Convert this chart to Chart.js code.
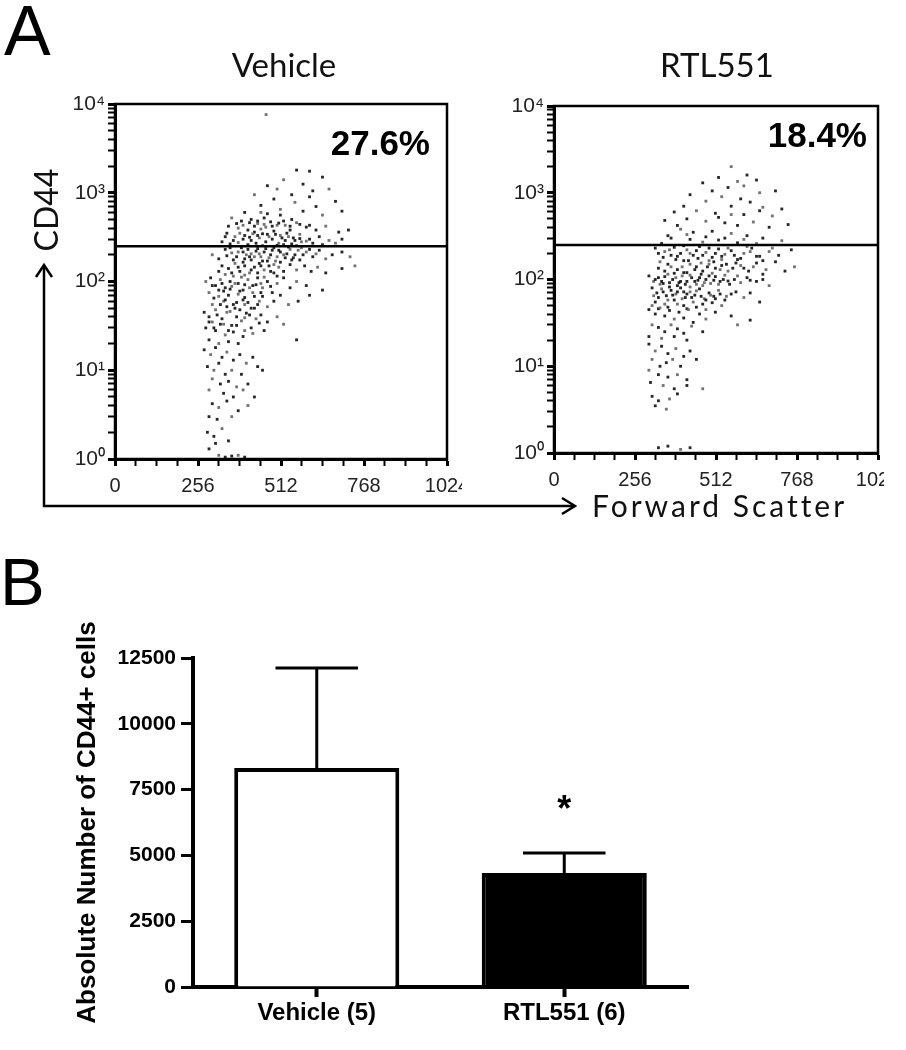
<!DOCTYPE html>
<html>
<head>
<meta charset="utf-8">
<script src="https://cdn.jsdelivr.net/npm/chart.js@4.4.1/dist/chart.umd.min.js"></script>
<style>
  body { margin: 0; background: #fff; }
  #page { position: relative; width: 906px; height: 1050px; overflow: hidden; font-family: "Liberation Sans", Arial, sans-serif; }
  canvas { position: absolute; }
  .txt { position: absolute; white-space: nowrap; color: #000; line-height: 1; }
  .title { font-family: Lato, "Open Sans", sans-serif; font-size: 33px; width: 300px; text-align: center; color: #111; }
  .pct { font-weight: bold; font-size: 35px; text-align: right; width: 200px; }
</style>
</head>
<body>
<div id="page">
  <canvas id="vehicleFlow" width="402" height="420" style="left:60px;top:94px"></canvas>
  <canvas id="rtlFlow" width="388" height="420" style="left:496px;top:96px"></canvas>
  <canvas id="countBars" width="640" height="460" style="left:70px;top:590px"></canvas>

  <svg width="906" height="1050" style="position:absolute;left:0;top:0;pointer-events:none">
    <g stroke="#000" stroke-width="2.5" fill="none">
      <polyline points="44,266 44,506 574,506"/>
      <polyline points="36,277 44,265 52,277"/>
      <polyline points="562,498 575,506 562,514"/>
    </g>
  </svg>

  <div class="txt" style="left:4px;top:-4px;font-size:70px">A</div>
  <div class="txt" style="left:0px;top:548px;font-size:67px">B</div>
  <div class="txt title" style="left:134px;top:48px">Vehicle</div>
  <div class="txt title" style="left:567px;top:48px">RTL551</div>
  <div class="txt pct" style="left:230px;top:125px">27.6%</div>
  <div class="txt pct" style="left:667px;top:117px">18.4%</div>
  <div class="txt" style="left:46px;top:210px;font-family:Lato,'Open Sans',sans-serif;font-size:32px;color:#111;transform:translate(-50%,-50%) rotate(-90deg)">CD44</div>
  <div class="txt" style="left:592px;top:490px;font-family:Lato,'Open Sans',sans-serif;font-size:30px;letter-spacing:3px;color:#111">Forward Scatter</div>
</div>

<script>
// ---- panel A: flow cytometry dots, [forward scatter, CD44] ----
const fscLabels = [0, 256, 512, 768, 1024];
const fscMinorStep = 64;
const cd44Decades = [1, 10, 100, 1000, 10000];
const cd44Exponents = ['\u2070', '\u00B9', '\u00B2', '\u00B3', '\u2074'];
const gateLevel = 250;

const vehiclePoints = [
  [466,7600],
  [560,1800],[600,1750],[520,1400],[640,1500],[470,1200],[500,1100],[580,1250],[610,1050],[660,1100],
  [545,950],[600,900],[430,950],[490,850],[680,800],[555,780],[620,700],[450,720],[510,650],[700,620],
  [580,620],[640,560],[400,600],[470,580],[360,520],[390,480],[420,500],[440,450],[460,520],[480,470],
  [500,430],[520,480],[540,420],[560,460],[590,410],[620,380],[650,420],[690,360],[720,380],[380,400],
  [410,380],[430,360],[450,390],[470,340],[490,370],[510,330],[530,350],[550,310],[570,340],[600,300],
  [630,320],[660,290],[700,300],[345,350],[370,320],[395,300],[420,290],[445,310],[465,280],[485,300],
  [505,270],[525,290],[545,265],[575,280],[610,270],[640,260],[680,270],[330,280],[355,265],[380,275],
  [410,260],[435,270],[455,255],[500,255],[520,260],[560,255],[600,430],[430,420],[465,410],[540,380],
  [510,560],[450,600],
  [340,320],[365,290],[385,350],[400,330],[415,315],[425,345],[440,330],[455,345],[475,320],[495,340],
  [515,310],[535,320],[555,290],[570,305],[590,285],[350,420],[375,450],[395,430],[415,460],[440,480],
  [460,440],[485,420],[505,455],[525,430],[545,500],[570,440],
  [300,200],[320,180],[340,230],[360,210],[375,190],[390,240],[405,200],[420,175],[435,220],[450,190],
  [465,235],[480,200],[495,170],[510,215],[525,185],[540,230],[555,200],[570,175],[590,215],[610,190],
  [630,225],[650,180],[670,200],[700,215],[725,190],[330,150],[350,140],[370,160],[385,130],[400,150],
  [415,125],[430,145],[445,160],[460,135],[475,150],[490,125],[505,145],[520,130],[540,155],[560,135],
  [585,150],[605,130],[625,145],[650,125],[700,140],[740,150],[355,240],[395,215],[445,205],[485,225],
  [530,205],[575,240],[415,190],[455,170],[500,190],[545,175],
  [400,180],[420,205],[440,235],[460,215],[475,185],[490,240],[505,225],[520,200],[535,245],[550,185],
  [565,225],[580,200],[600,230],[620,205],[345,195],[365,175],[380,215],[395,165],[410,230],[430,190],
  [450,150],[470,170],[490,155],[510,165],[320,130],[340,120],[360,125],[380,145],[400,118],[420,135],
  [440,125],[460,112],[480,130],[500,115],
  [280,100],[295,110],[310,90],[325,105],[340,85],[355,100],[365,115],[380,95],[395,80],[410,105],
  [425,90],[440,110],[455,85],[470,100],[485,75],[500,95],[520,110],[540,85],[560,100],[590,90],
  [640,80],[290,75],[305,65],[320,80],[335,60],[350,70],[365,55],[380,72],[395,62],[410,58],
  [425,75],[440,55],[455,68],[470,52],[490,60],[510,70],[535,55],[565,60],[600,70],[300,55],
  [345,52],[420,50],[360,88],[400,92],[430,68],[450,95],[375,58],[330,95],[390,112],[480,88],
  [300,90],[320,68],[335,78],[355,82],[370,95],[385,78],[400,66],[415,85],[435,92],[450,75],
  [310,48],[325,55],[340,62],[355,46],[370,50],[385,48],[400,55],[415,42],[430,50],[445,60],
  [275,45],[290,40],[300,35],[315,42],[330,38],[345,45],[360,32],[375,40],[390,36],[405,44],
  [420,30],[435,38],[450,42],[470,35],[500,40],[280,30],[310,28],[340,25],[365,27],[395,24],
  [425,26],[460,28],[290,22],[320,20],[350,21],[380,20],[520,33],[560,22],[325,33],[400,39],
  [290,35],[305,30],[335,33],[350,28],[375,32],[400,28],[445,34],
  [275,17],[295,15],[310,18],[330,14],[345,16],[365,13],[385,15],[405,12],[425,14],[285,11],
  [305,10],[320,12],[340,9],[360,10],[390,9],[440,11],[300,8],[325,7],[350,7.5],[375,6.5],
  [410,7],[455,10],[290,6],[335,5.5],[365,5],[395,6],[430,5],
  [300,4.2],[320,3.8],[345,4.5],[380,3.5],[410,4],[290,3],[315,2.8],[360,3],[285,2],[305,1.8],
  [330,2.2],[350,1.6],[290,1.3],[320,1.1],[340,1.05],[360,1.08],[380,1.1],[400,1.05],[310,1.5]
];

const rtlPoints = [
  [560,2000],[520,1500],[610,1600],[580,1350],[640,1400],[470,1300],[600,1200],[550,1150],[500,1050],[650,1000],
  [700,1050],[430,950],[530,900],[590,850],[620,780],[480,800],[560,700],[410,700],[660,680],[720,650],
  [380,600],[450,620],[510,580],[600,560],[690,540],[350,480],[420,500],[480,470],[540,450],[580,420],
  [630,460],[680,400],[740,430],[400,380],[440,350],[500,360],[560,340],[610,320],[660,300],[720,280],
  [370,300],[430,290],[470,270],[520,285],[580,265],[640,260],[340,260],
  [360,320],[420,330],[480,310],[540,300],[600,290],[390,420],[520,520],[560,560],[650,620],
  [320,230],[350,210],[380,235],[400,200],[420,220],[440,190],[460,240],[480,205],[500,180],[520,225],
  [540,195],[560,215],[580,170],[600,200],[625,230],[650,185],[680,210],[710,190],[750,220],[335,160],
  [360,150],[385,170],[405,140],[425,165],[445,130],[465,155],[485,140],[505,160],[525,130],[545,150],
  [565,135],[590,145],[615,125],[640,155],[670,130],[700,160],[730,125],[760,140],[370,190],[455,175],
  [530,170],[410,245],[490,230],[610,240],
  [330,200],[345,180],[365,220],[390,185],[410,165],[430,200],[450,215],[470,190],[490,165],[510,200],
  [530,185],[550,230],[570,190],[590,175],[620,210],[640,185],[660,165],[690,230],[330,135],[350,125],
  [370,140],[390,130],[410,120],[430,150],[450,140],[470,125],[490,150],[510,135],[530,145],[550,125],
  [575,155],[600,135],[630,140],[660,115],
  [300,110],[315,95],[330,105],[345,90],[360,115],[375,100],[390,85],[405,110],[420,95],[435,105],
  [450,88],[465,115],[480,100],[495,90],[510,108],[525,95],[540,112],[555,88],[570,100],[590,92],
  [610,105],[640,95],[680,85],[310,80],[325,70],[340,78],[355,65],[370,75],[385,68],[400,80],
  [415,62],[430,72],[445,66],[460,78],[475,60],[490,70],[505,64],[520,75],[540,58],[560,68],
  [600,62],[650,55],[320,55],[350,52],[380,58],[410,50],[440,55],[470,52],[500,54],[530,50],
  [340,95],[420,120],[470,85],[380,118],[395,92],[430,82],[455,98],[365,82],[500,118],[410,72],
  [320,100],[335,88],[350,108],[365,92],[385,105],[400,95],[415,88],[430,112],[445,95],[460,105],
  [475,92],[490,110],[505,98],[520,88],[535,100],[550,96],[580,110],[620,98],[660,100],[315,65],
  [330,62],[345,72],[360,58],[375,66],[390,72],[405,60],[420,68],[435,62],[450,74],[465,64],
  [480,58],[495,66],[510,60],[525,68],[545,64],[575,72],[620,70],[310,50],[330,46],[360,48],
  [390,52],[420,46],[450,48],[480,45],
  [300,45],[320,40],[335,47],[350,38],[365,44],[380,35],[395,42],[410,36],[425,45],[440,32],
  [460,40],[480,35],[510,42],[560,38],[310,30],[330,28],[350,25],[370,30],[390,27],[410,24],
  [435,29],[470,25],[300,22],[340,21],[380,22],[420,20],[580,30],[620,34],
  [300,18],[320,15],[340,17],[360,14],[385,16],[410,13],[430,15],[310,12],[335,10],[355,11],
  [375,12],[400,10],[450,12],[300,9],[330,8],[360,7.5],[390,8],[420,7],[305,6.5],[345,6],
  [380,5.5],[420,6],[470,5.5],
  [310,4.5],[330,4],[365,4.2],[390,4.8],[320,3.5],[355,3.2],[330,1.15],[360,1.2],[400,1.1],[430,1.15]
];

// ---- panel B: absolute CD44+ counts ----
const groupLabels = ['Vehicle (5)', 'RTL551 (6)'];
const countMeans = [8320, 4330];
const countSems = [3800, 760];
const countStars = ['', '*'];
const countTicks = [0, 2500, 5000, 7500, 10000, 12500];

const fscTickValues = [];
for (let v = 0; v <= 1024; v += fscMinorStep) fscTickValues.push(v);
const cd44TickValues = [];
cd44Decades.slice(0, -1).forEach(d => { for (let m = 1; m <= 9; m++) cd44TickValues.push(d * m); });
cd44TickValues.push(cd44Decades[cd44Decades.length - 1]);

Chart.defaults.font.family = '"Liberation Sans", Arial, sans-serif';
Chart.defaults.color = '#000';

const frame = {
  id: 'frame',
  afterDraw(chart) {
    const { ctx, chartArea: a } = chart;
    ctx.save();
    ctx.strokeStyle = '#000';
    ctx.lineWidth = 2.5;
    ctx.strokeRect(a.left, a.top, a.right - a.left, a.bottom - a.top);
    ctx.restore();
  }
};

function flowChart(id, points, padTop, padRight, yWidth, xHeight) {
  return new Chart(document.getElementById(id), {
    type: 'scatter',
    data: {
      datasets: [
        {
          data: [{ x: 0, y: gateLevel }, { x: 1024, y: gateLevel }],
          showLine: true, borderColor: '#000', borderWidth: 2.5, pointRadius: 0
        },
        {
          data: points.map(p => ({ x: p[0], y: p[1] })),
          pointStyle: 'rect', pointRadius: 2, borderWidth: 0,
          backgroundColor: c => (c.dataIndex % 3 === 0 ? 'rgba(100,100,100,0.9)' : 'rgba(15,15,15,0.9)')
        }
      ]
    },
    options: {
      responsive: false,
      animation: false,
      events: [],
      layout: { padding: { top: padTop, right: padRight, left: 0, bottom: 0 } },
      plugins: { legend: { display: false }, tooltip: { enabled: false } },
      scales: {
        x: {
          type: 'linear', min: 0, max: 1024,
          afterBuildTicks: s => { s.ticks = fscTickValues.map(v => ({ value: v })); },
          afterFit: s => { s.height = xHeight; s.paddingLeft = 0; s.paddingRight = 0; },
          ticks: {
            autoSkip: false, maxRotation: 0, padding: 8, color: '#222', font: { size: 20 },
            callback: v => (fscLabels.includes(v) ? String(v) : '')
          },
          grid: { drawOnChartArea: false, tickLength: 7, tickColor: '#000',
                  tickWidth: c => (fscLabels.includes(c.tick.value) ? 3 : 2) },
          border: { color: '#000', width: 3 }
        },
        y: {
          type: 'logarithmic', min: 1, max: 10000,
          afterBuildTicks: s => { s.ticks = cd44TickValues.map(v => ({ value: v })); },
          afterFit: s => { s.width = yWidth; s.paddingTop = 0; s.paddingBottom = 0; },
          ticks: {
            autoSkip: false, padding: 3, color: '#222', font: { size: 21 },
            callback: v => {
              const e = cd44Decades.indexOf(v);
              return e < 0 ? '' : '10' + cd44Exponents[e];
            }
          },
          grid: { drawOnChartArea: false, tickLength: 7, tickColor: '#000',
                  tickWidth: c => (cd44Decades.includes(c.tick.value) ? 3 : 2) },
          border: { color: '#000', width: 3 }
        }
      }
    },
    plugins: [frame]
  });
}

flowChart('vehicleFlow', vehiclePoints, 10, 15, 55, 55);
flowChart('rtlFlow', rtlPoints, 10, 6, 58, 63);

const errorBars = {
  id: 'errorBars',
  afterDatasetsDraw(chart) {
    const { ctx } = chart;
    const y = chart.scales.y;
    const bars = chart.getDatasetMeta(0).data;
    ctx.save();
    ctx.strokeStyle = '#000';
    ctx.fillStyle = '#000';
    ctx.lineWidth = 3;
    bars.forEach((bar, i) => {
      const top = y.getPixelForValue(countMeans[i] + countSems[i]);
      const half = bar.width / 4;
      ctx.beginPath();
      ctx.moveTo(bar.x, bar.y);
      ctx.lineTo(bar.x, top);
      ctx.moveTo(bar.x - half, top);
      ctx.lineTo(bar.x + half, top);
      ctx.stroke();
      if (countStars[i]) {
        ctx.font = 'bold 36px "Liberation Sans", Arial, sans-serif';
        ctx.textAlign = 'center';
        ctx.textBaseline = 'middle';
        ctx.fillText(countStars[i], bar.x, top - 42);
      }
    });
    ctx.restore();
  }
};

new Chart(document.getElementById('countBars'), {
  type: 'bar',
  data: {
    labels: groupLabels,
    datasets: [{
      data: countMeans,
      backgroundColor: ['#ffffff', '#000000'],
      borderColor: '#000',
      borderWidth: 4,
      barPercentage: 0.667,
      categoryPercentage: 1
    }]
  },
  options: {
    responsive: false,
    animation: false,
    events: [],
    layout: { padding: { top: 68, right: 22, left: 0, bottom: 0 } },
    plugins: { legend: { display: false }, tooltip: { enabled: false } },
    scales: {
      x: {
        offset: true,
        afterFit: s => { s.height = 63; s.paddingLeft = 0; s.paddingRight = 0; },
        ticks: { padding: 2, color: '#000', font: { size: 24, weight: 'bold' } },
        grid: { offset: false, drawOnChartArea: false, tickLength: 10, tickWidth: 4, tickColor: '#000' },
        border: { color: '#000', width: 4 }
      },
      y: {
        min: 0, max: 12500,
        afterBuildTicks: s => { s.ticks = countTicks.map(v => ({ value: v })); },
        afterFit: s => { s.width = 123; s.paddingTop = 0; s.paddingBottom = 0; },
        ticks: { padding: 5, color: '#000', font: { size: 21, weight: 'bold' }, callback: v => String(v) },
        grid: { drawOnChartArea: false, tickLength: 12, tickWidth: 3, tickColor: '#000' },
        border: { color: '#000', width: 4 },
        title: {
          display: true, text: 'Absolute Number of CD44+ cells', color: '#000',
          font: { size: 26, weight: 'bold' }, padding: { top: 2, bottom: 0 }
        }
      }
    }
  },
  plugins: [errorBars]
});
</script>
</body>
</html>
